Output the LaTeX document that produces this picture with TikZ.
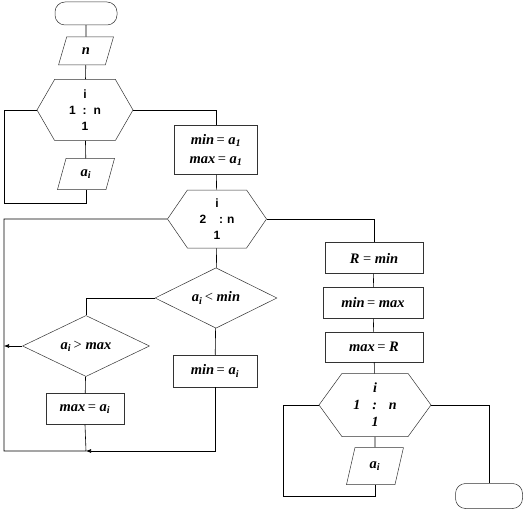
\documentclass[tikz,border=0pt]{standalone}
\usepackage{fontspec}
\setmainfont{Liberation Serif}
\setsansfont{Liberation Sans}
\usetikzlibrary{shapes.geometric,shapes.symbols,shapes.misc,arrows.meta}
\newcommand{\vv}[1]{\textbf{\textit{#1}}}
\newcommand{\ai}{\vv{a}\textsubscript{\vv{i}}}
\newcommand{\aone}{\vv{a}\textsubscript{\vv{1}}}
\newcommand{\fm}{\fontsize{14.5}{19}\selectfont}
\newcommand{\fs}{\fontsize{12}{16}\selectfont\sffamily\bfseries}
\tikzset{
  base/.style={draw=black!80, line width=0.5pt, inner sep=0pt, font=\fm, align=center},
  box/.style={base, rectangle},
  term/.style={base, rectangle, rounded corners=10pt},
  io/.style={base, trapezium, trapezium left angle=76, trapezium right angle=104, trapezium stretches=true},
  hexa/.style={base, signal, signal to=west and east, signal pointer angle=#1},
  dec/.style={base, diamond},
  conn/.style={draw=black, line width=0.6pt},
  arr/.style={conn, -{Latex[length=5pt,width=4pt]}}
}
\begin{document}
\begin{tikzpicture}[x=1pt,y=-1pt]
\useasboundingbox (0,0) rectangle (523,511);
% left part
\node[term, minimum width=62pt, minimum height=23pt] (start) at (86,13.5) {};
\node[io, minimum width=55pt, minimum height=28pt] (n) at (86,51) {\vv{n}};
\node[hexa=120, minimum width=96pt, minimum height=61pt, font=\fs] (hex1) at (85,110) {i\\1\hspace{7pt}:\hspace{7pt}n\\1};
\node[io, minimum width=57pt, minimum height=31pt] (ai1) at (86,174) {\ai};
\node[box, minimum width=83pt, minimum height=49pt] (mm) at (216,150) {\vv{min}\,= \aone\\\vv{max}\,= \aone};
\node[hexa=111, minimum width=99pt, minimum height=58pt, font=\fs] (hex2) at (217,219) {i\\2\hspace{13pt}:\hspace{4pt}n\\1};
\node[dec, minimum width=122pt, minimum height=48pt] (d1) at (216,298) {\ai\,< \vv{min}};
\node[dec, minimum width=127pt, minimum height=46pt] (d2) at (86,346) {\ai\,> \vv{max}};
\node[box, minimum width=84pt, minimum height=32pt] (mina) at (215,371) {\vv{min}\,= \ai};
\node[box, minimum width=78pt, minimum height=31pt] (maxa) at (85,409) {\vv{max}\,= \ai};
% right part
\node[box, minimum width=98pt, minimum height=31pt] (rmin) at (374,258) {\vv{R} = \vv{min}};
\node[box, minimum width=100pt, minimum height=31pt] (minmax) at (373,303) {\vv{min}\,= \vv{max}};
\node[box, minimum width=98pt, minimum height=30pt] (maxr) at (374,347) {\vv{max}\,= \vv{R}};
\node[hexa=108, minimum width=112pt, minimum height=63pt, font=\fontsize{14}{17}\selectfont] (hex3) at (375,405) {\vv{i}\\\vv{1}\hspace{12pt}\vv{:}\hspace{12pt}\vv{n}\\\vv{1}};
\node[io, minimum width=57pt, minimum height=37pt] (ai3) at (375,466) {\ai};
\node[term, minimum width=67pt, minimum height=25pt] (endt) at (489,496) {};
% helper coordinates
\coordinate (L1) at (4,203);
\coordinate (L2) at (4,451);
\coordinate (M) at (86,451);
\coordinate (A) at (4,346);
\coordinate (L3) at (283,496);
% connectors
\draw[conn] (start) -- (n);
\draw[conn] (n) -- (hex1);
\draw[conn] (hex1) -- (ai1);
\draw[conn] (ai1.south) |- (L1) |- (hex1.west);
\draw[conn] (hex1.east) -| (mm.north);
\draw[conn] (mm) -- (hex2);
\draw[conn] (hex2) -- (d1);
\draw[conn] (d1.west) -| (d2.north);
\draw[conn] (d1) -- (mina);
\draw[conn] (d2) -- (maxa);
\draw[arr] (d2.west) -- (A);
\draw[arr] (mina.south) |- (M);
\draw[conn] (maxa.south) -- (M) -- (L2) |- (hex2.west);
\draw[conn] (hex2.east) -| (rmin.north);
\draw[conn] (rmin) -- (minmax);
\draw[conn] (minmax) -- (maxr);
\draw[conn] (maxr) -- (hex3);
\draw[conn] (hex3) -- (ai3);
\draw[conn] (ai3.south) |- (L3) |- (hex3.west);
\draw[conn] (hex3.east) -| (endt.north);
\end{tikzpicture}
\end{document}
